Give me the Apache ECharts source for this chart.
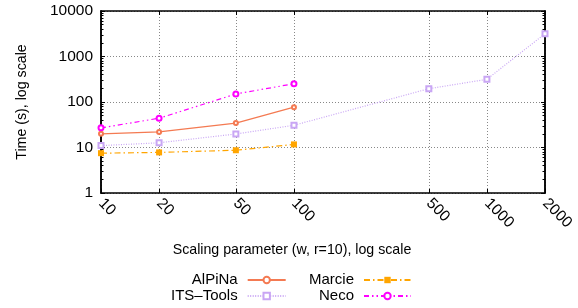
<!DOCTYPE html>
<html>
<head>
<meta charset="utf-8">
<script src="https://cdn.jsdelivr.net/npm/echarts@6/dist/echarts.min.js"></script>
<style>
  html, body { margin: 0; padding: 0; background: #fff; }
  #main { width: 578px; height: 308px; }
</style>
</head>
<body>
<div id="main"></div>
<script>
// x values (scaling parameter w)
const xTicks = [10, 20, 50, 100, 500, 1000, 2000]
const yTicks = [1, 10, 100, 1000, 10000]
const yMinor = [2,3,4,5,6,7,8,9, 20,30,40,50,60,70,80,90, 200,300,400,500,600,700,800,900, 2000,3000,4000,5000,6000,7000,8000,9000]

// times in seconds
const alpinaX = [10, 20, 50, 100]
const alpina = [20, 22, 34.5, 77]
const itsX = [10, 20, 50, 100, 500, 1000, 2000]
const its = [11, 12.7, 19.8, 30.8, 196, 315, 3170]
const marcieX = [10, 20, 50, 100]
const marcie = [7.5, 7.8, 8.7, 11.7]
const necoX = [10, 20, 50, 100]
const neco = [27, 44, 150, 252]

const zip = (xs, ys) => xs.map((x, i) => [x, ys[i]])

const font = 'Liberation Sans, Arial, sans-serif'
const dotted = { color: '#888', width: 1, type: [1, 2] }
const tickStyle = { color: '#000', width: 1 }
const lineOn = { show: true, onZero: false, lineStyle: { color: '#000', width: 1.5 } }

const yAxisBase = {
  type: 'log', logBase: 10, min: 1, max: 10000,
  splitLine: { show: false },
  axisLine: lineOn,
  axisLabel: { show: false }
}

const main = echarts.init(document.getElementById('main'))
main.setOption({
  animation: false,
  backgroundColor: '#fff',
  textStyle: { fontFamily: font },
  // the four axis lines make the frame
  grid: { left: 101, right: 33, top: 11, bottom: 115, show: false },
  xAxis: [
    {
      type: 'log', logBase: 10, min: 10, max: 2000,
      name: 'Scaling parameter (w, r=10), log scale',
      nameLocation: 'middle', nameGap: 50,
      nameTextStyle: { fontSize: 14.2, color: '#000', fontFamily: font, padding: [0, 62, 0, 0] },
      axisLine: lineOn,
      axisTick: { show: true, inside: true, length: 4, customValues: xTicks, lineStyle: tickStyle },
      axisLabel: { customValues: xTicks, rotate: -45, fontSize: 15.5, color: '#000', margin: 8, formatter: v => String(v) },
      splitLine: { show: true, lineStyle: dotted }
    },
    {
      type: 'log', logBase: 10, min: 10, max: 2000, position: 'top',
      axisLine: lineOn,
      axisTick: { show: true, inside: true, length: 4, customValues: xTicks, lineStyle: tickStyle },
      axisLabel: { show: false },
      splitLine: { show: false }
    }
  ],
  yAxis: [
    {
      type: 'log', logBase: 10, min: 1, max: 10000,
      name: 'Time (s), log scale',
      nameLocation: 'middle', nameGap: 72,
      nameTextStyle: { fontSize: 14.2, color: '#000', fontFamily: font },
      axisLine: lineOn,
      axisTick: { show: true, inside: true, length: 4, lineStyle: tickStyle },
      axisLabel: { fontSize: 15.5, color: '#000', margin: 8, formatter: v => String(v) },
      splitLine: { show: true, lineStyle: dotted }
    },
    Object.assign({}, yAxisBase, { position: 'left', axisTick: { show: true, inside: true, length: 2.5, customValues: yMinor, lineStyle: tickStyle } }),
    Object.assign({}, yAxisBase, { position: 'right', axisTick: { show: true, inside: true, length: 4, customValues: yTicks, lineStyle: tickStyle } }),
    Object.assign({}, yAxisBase, { position: 'right', axisTick: { show: true, inside: true, length: 2.5, customValues: yMinor, lineStyle: tickStyle } })
  ],
  legend: [
    {
      data: ['AlPiNa', 'ITS–Tools'],
      orient: 'vertical', left: 171, top: 272, align: 'right', padding: 0,
      itemWidth: 38, itemHeight: 8, itemGap: 0,
      textStyle: { fontSize: 15, color: '#000', width: 59, lineHeight: 16, padding: [0, 5, 0, 0], align: 'right', fontFamily: font }
    },
    {
      data: ['Marcie', 'Neco'],
      orient: 'vertical', left: 295, top: 272, align: 'right', padding: 0,
      itemWidth: 47, itemHeight: 8, itemGap: 0,
      textStyle: { fontSize: 15, color: '#000', width: 59, lineHeight: 16, padding: [0, 5, 0, 0], align: 'right', fontFamily: font }
    }
  ],
  series: [
    {
      name: 'AlPiNa', type: 'line', data: zip(alpinaX, alpina),
      color: '#f47a52', symbol: 'emptyCircle', symbolSize: 4,
      lineStyle: { width: 1.3, type: 'solid' }
    },
    {
      name: 'ITS–Tools', type: 'line', data: zip(itsX, its),
      color: '#c9a6f4', symbol: 'emptyRect', symbolSize: 5,
      itemStyle: { borderColor: '#b085ee', borderWidth: 1.3 },
      lineStyle: { width: 1.2, type: [1, 1.5] }
    },
    {
      name: 'Marcie', type: 'line', data: zip(marcieX, marcie),
      color: '#ffa500', symbol: 'rect', symbolSize: 6,
      lineStyle: { width: 1.2, type: [6, 3, 1.5, 3] }
    },
    {
      name: 'Neco', type: 'line', data: zip(necoX, neco),
      color: '#ff00ff', symbol: 'emptyCircle', symbolSize: 5,
      itemStyle: { borderWidth: 1.3 },
      lineStyle: { width: 1.2, type: [5, 3, 1.5, 3, 1.5, 3] }
    }
  ]
})
</script>
</body>
</html>
